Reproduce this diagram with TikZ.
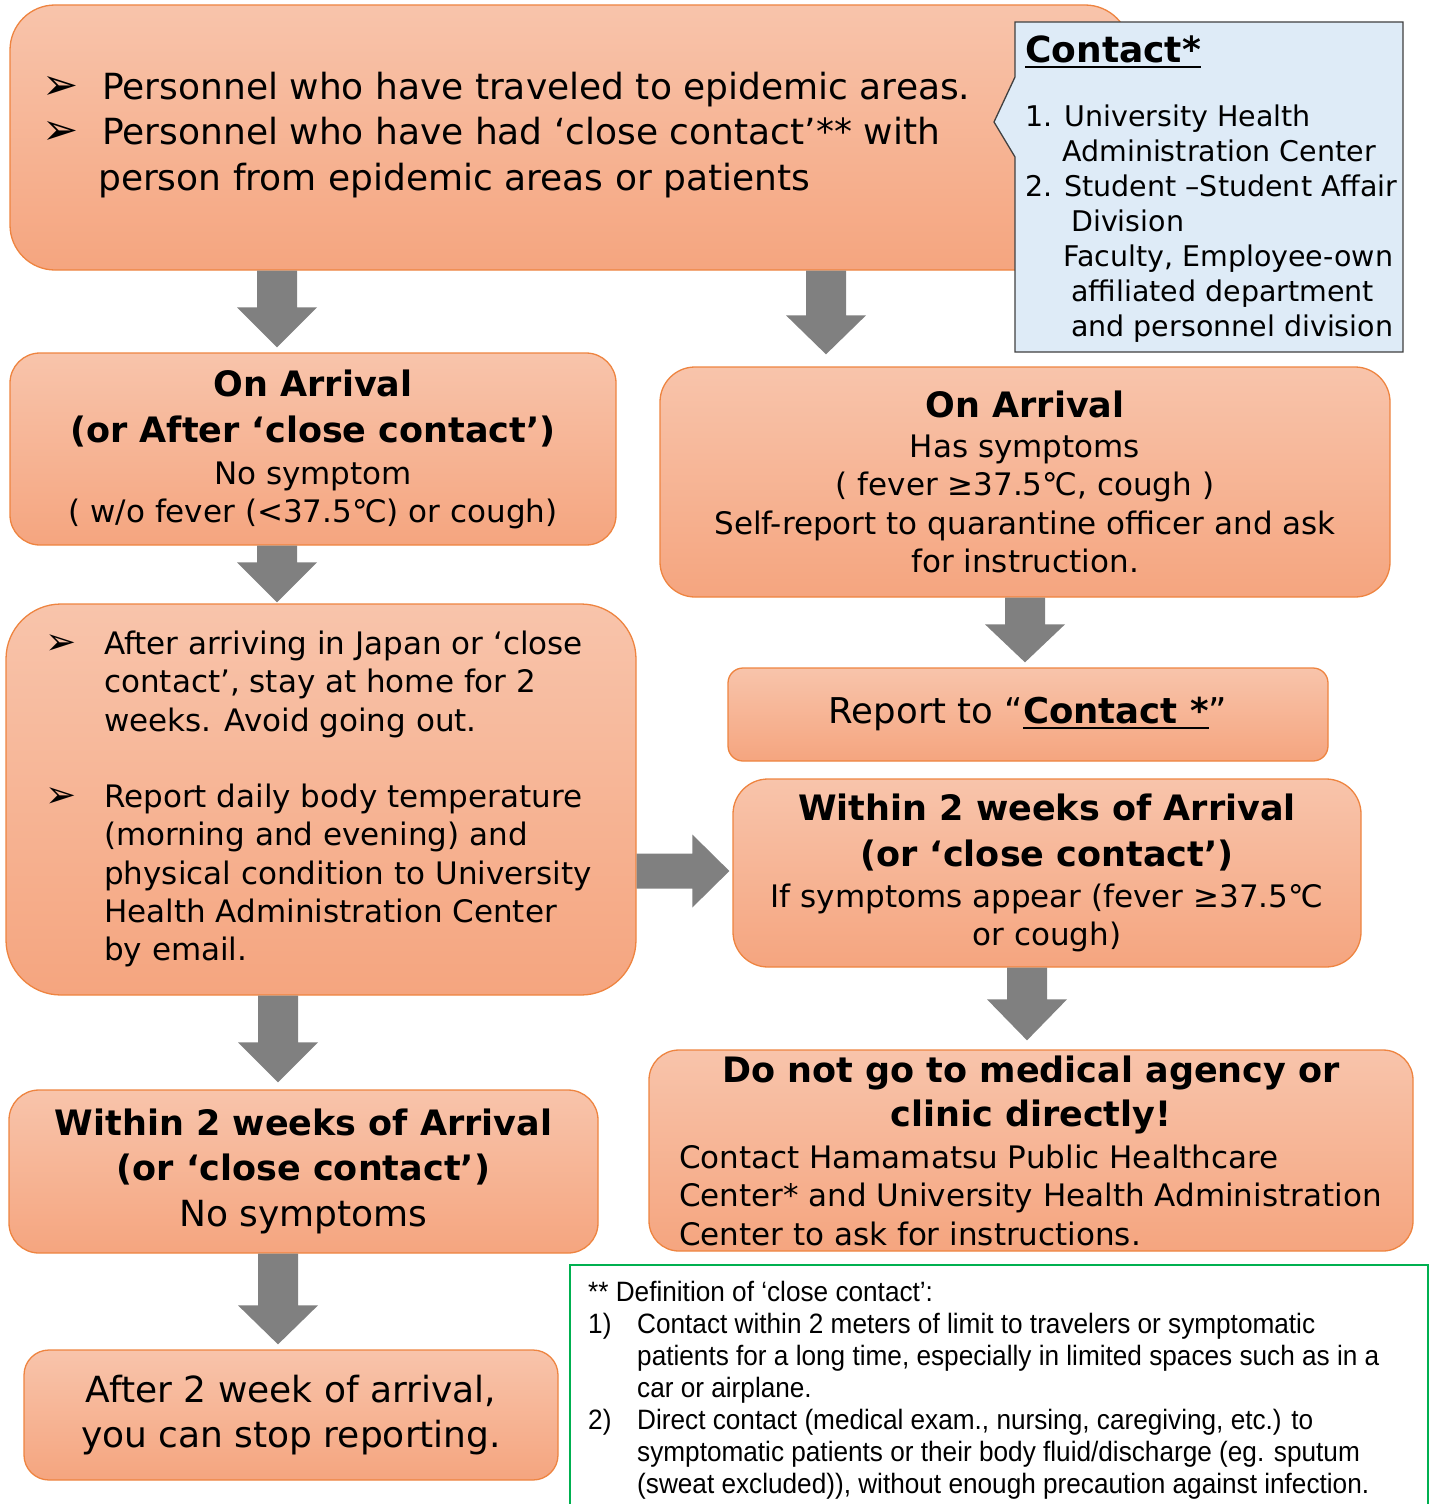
\documentclass[tikz,border=0pt]{standalone}
\usepackage{fontspec}
\setmainfont{DejaVu Sans}
\newfontfamily\notefont{Liberation Sans}[FakeStretch=0.935]
\usetikzlibrary{calc}
\definecolor{boxtop}{HTML}{F8C4AB}
\definecolor{boxbot}{HTML}{F5A57F}
\definecolor{boxline}{HTML}{EE8440}
\definecolor{contactblue}{HTML}{DEEBF7}
\definecolor{notegreen}{HTML}{00B050}
\definecolor{arrowgray}{HTML}{808080}
\newcommand{\myul}[1]{\setbox0\hbox{#1}\rlap{\raisebox{-5pt}{\rule{\wd0}{2pt}}}\box0}
\newcommand{\bul}[1]{\leavevmode\llap{\makebox[#1][l]{\scalebox{1.2}{➢}}}}
% block arrow down: x, from, to, gap at tip, head length
\newcommand{\blockdown}[5]{%
 \fill[arrowfill] let \p1=(#2), \p2=(#3) in
 ({(#1-20)*1pt},\y1) -- ({(#1+20)*1pt},\y1) -- ({(#1+20)*1pt},{\y2+(#4+#5)*1pt})
 -- ({(#1+40)*1pt},{\y2+(#4+#5)*1pt}) -- ({#1*1pt},{\y2+#4*1pt})
 -- ({(#1-40)*1pt},{\y2+(#4+#5)*1pt}) -- ({(#1-20)*1pt},{\y2+(#4+#5)*1pt}) -- cycle;}
% block arrow right: y, from, to, gap at tip, head length
\newcommand{\blockright}[5]{%
 \fill[arrowfill] let \p1=(#2), \p2=(#3) in
 (\x1,{-(#1-17.5)*1pt}) -- ({\x2-(#4+#5)*1pt},{-(#1-17.5)*1pt})
 -- ({\x2-(#4+#5)*1pt},{-(#1-36.5)*1pt}) -- ({\x2-#4*1pt},{-#1*1pt})
 -- ({\x2-(#4+#5)*1pt},{-(#1+36.5)*1pt}) -- ({\x2-(#4+#5)*1pt},{-(#1+17.5)*1pt})
 -- (\x1,{-(#1+17.5)*1pt}) -- cycle;}
\tikzset{
 box/.style={draw=boxline, line width=1.3pt, top color=boxtop, bottom color=boxbot,
   inner sep=0pt, align=flush center},
 txt/.style={inner sep=0pt, align=flush left},
 arrowfill/.style={fill=arrowgray},
}
\begin{document}
\begin{tikzpicture}[x=1pt,y=-1pt]
\useasboundingbox (0,0) rectangle (1432,1504);

% top box
\node[box, rounded corners=45pt, minimum width=1120pt, minimum height=265pt] (b1) at (570,137.5) {};
\node[txt, anchor=west, text width=900pt, font={\fontsize{36}{45.5}\selectfont}] (t1) at (102,135)
 {\bul{60pt}Personnel who have traveled to epidemic areas.\\
  \bul{60pt}Personnel who have had ‘close contact’** with\\
  \hspace*{-4pt}person from epidemic areas or patients};

% contact callout
\draw[draw=black!75, line width=1.3pt, fill=contactblue] (1015,22) -- (1403,22) -- (1403,352)
  -- (1015,352) -- (1015,157) -- (994,122) -- (1015,77) -- cycle;
\node[txt, anchor=base west, font={\fontsize{36}{40}\selectfont\bfseries}] (ct1) at (1025,63) {\myul{Contact*}};
\node[txt, anchor=west, text width=380pt, font={\fontsize{28.5}{35}\selectfont}] (ct2) at (1025,224)
 {1. University Health\\
  \hspace*{37pt}Administration Center\\
  2. Student –Student Affair\\
  \hspace*{46pt}Division\\
  \hspace*{38pt}Faculty, Employee-own\\
  \hspace*{46pt}affiliated department\\
  \hspace*{46pt}and personnel division};

% left column
\node[box, rounded corners=30pt, minimum width=606pt, minimum height=192pt, text width=606pt] (b2) at (313,449)
 {{\fontsize{35}{46}\selectfont\bfseries On Arrival\\(or After ‘close contact’)\par}
  \vspace{4pt}
  {\fontsize{31}{38}\selectfont No symptom\\( w/o fever (<37.5℃) or cough)\par}};

\node[box, rounded corners=55pt, minimum width=630pt, minimum height=391pt] (b4) at (321,799.5) {};
\node[txt, anchor=west, text width=530pt, font={\fontsize{31}{38.25}\selectfont}] (t4) at (104,799)
 {\bul{59pt}After arriving in Japan or ‘close\\
  contact’, stay at home for 2\\
  weeks. Avoid going out.\\[38.25pt]
  \bul{59pt}Report daily body temperature\\
  (morning and evening) and\\
  physical condition to University\\
  Health Administration Center\\
  by email.};

\node[box, rounded corners=30pt, minimum width=589pt, minimum height=163pt, text width=589pt] (b8) at (303.5,1171.5)
 {{\fontsize{35}{45}\selectfont\bfseries Within 2 weeks of Arrival\\(or ‘close contact’)\par}
  \vspace{1pt}
  {\fontsize{36}{45}\selectfont No symptoms\par}};

\node[box, rounded corners=25pt, minimum width=534pt, minimum height=130pt, text width=534pt] (b9) at (291,1415)
 {{\fontsize{36}{45}\selectfont After 2 week of arrival,\\you can stop reporting.\par}};

% right column
\node[box, rounded corners=35pt, minimum width=730pt, minimum height=230pt, text width=730pt] (b3) at (1025,482)
 {{\fontsize{35}{46}\selectfont\bfseries On Arrival\par}
  \vspace{1pt}
  {\fontsize{31}{38.5}\selectfont Has symptoms\\( fever ≥37.5℃, cough )\\Self-report to quarantine officer and ask\\for instruction.\par}
  \vspace{5pt}};

\node[box, rounded corners=15pt, minimum width=600pt, minimum height=93pt, text width=600pt,
  font={\fontsize{35.5}{42}\selectfont}] (b5) at (1028,714.5)
 {Report to “\myul{\textbf{Contact *}}”};

\node[box, rounded corners=35pt, minimum width=628pt, minimum height=188pt, text width=628pt] (b6) at (1047,873)
 {{\fontsize{35}{46}\selectfont\bfseries Within 2 weeks of Arrival\\(or ‘close contact’)\par}
  \vspace{3pt}
  {\fontsize{31}{38}\selectfont If symptoms appear (fever ≥37.5℃\\or cough)\par}};

\node[box, rounded corners=30pt, minimum width=764pt, minimum height=201pt, text width=704pt] (b7) at (1031,1150.5)
 {{\fontsize{35}{44}\selectfont\bfseries Do not go to medical agency or\\clinic directly!\par}
  \vspace{3.5pt}
  {\fontsize{31}{38.5}\selectfont\raggedright Contact Hamamatsu Public Healthcare\\Center* and University Health Administration\\Center to ask for instructions.\par}
  \vspace{6pt}};

% footnote
\draw[draw=notegreen, line width=2pt, fill=white] (570,1265) rectangle (1428,1520);
\node[txt, anchor=west, text width=840pt, font={\notefont\fontsize{28}{32}\selectfont}] (fn) at (588,1390)
 {** Definition of ‘close contact’:\\
  \makebox[49pt][l]{1)}Contact within 2 meters of limit to travelers or symptomatic\\
  \hspace*{49pt}patients for a long time, especially in limited spaces such as in a\\
  \hspace*{49pt}car or airplane.\\
  \makebox[49pt][l]{2)}Direct contact (medical exam., nursing, caregiving, etc.) to\\
  \hspace*{49pt}symptomatic patients or their body fluid/discharge (eg. sputum\\
  \hspace*{49pt}(sweat excluded)), without enough precaution against infection.};

% arrows
\blockdown{277}{b1.south}{b2.north}{5}{40}
\blockdown{826}{b1.south}{b3.north}{12}{39}
\blockdown{277}{b2.south}{b4.north}{1}{40}
\blockdown{1025}{b3.south}{b5.north}{5}{38}
\blockdown{1027}{b6.south}{b7.north}{9}{41}
\blockdown{278}{b4.south}{b8.north}{7}{40}
\blockdown{278}{b8.south}{b9.north}{5}{39}
\blockright{871}{b4.east}{b6.west}{3}{37}
\end{tikzpicture}
\end{document}
